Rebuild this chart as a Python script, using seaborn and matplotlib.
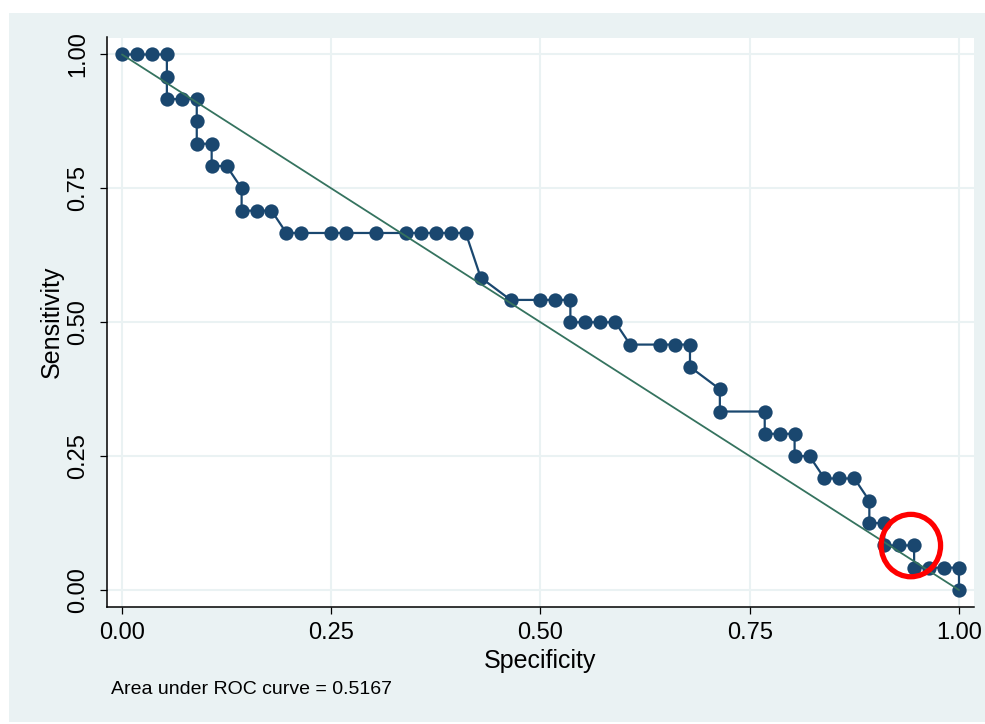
import matplotlib
matplotlib.use("Agg")
import matplotlib.pyplot as plt
from matplotlib.patches import Rectangle, Ellipse
import pandas as pd
import seaborn as sns

# ROC operating points (specificity, sensitivity), in threshold order
specificity = [0, .0179, .0357, .0536, .0536, .0536, .0714, .0893, .0893, .0893,
               .1071, .1071, .125, .1429, .1429, .1607, .1786, .1964, .2143, .25,
               .2679, .3036, .3393, .3571, .375, .3929, .4107, .4286, .4643, .5,
               .5179, .5357, .5357, .5536, .5714, .5893, .6071, .6429, .6607, .6786,
               .6786, .7143, .7143, .7679, .7679, .7857, .8036, .8036, .8214, .8393,
               .8571, .875, .8929, .8929, .9107, .9107, .9286, .9464, .9464, .9643,
               .9821, 1, 1]
sensitivity = [1, 1, 1, 1, .9583, .9167, .9167, .9167, .875, .8333,
               .8333, .7917, .7917, .75, .7083, .7083, .7083, .6667, .6667, .6667,
               .6667, .6667, .6667, .6667, .6667, .6667, .6667, .5833, .5417, .5417,
               .5417, .5417, .5, .5, .5, .5, .4583, .4583, .4583, .4583,
               .4167, .375, .3333, .3333, .2917, .2917, .2917, .25, .25, .2083,
               .2083, .2083, .1667, .125, .125, .0833, .0833, .0833, .0417, .0417,
               .0417, .0417, 0]

# chance reference line
ref_spec = [0, 1]
ref_sens = [1, 0]

tick_values = [0, 0.25, 0.5, 0.75, 1.0]
tick_labels = ["0.00", "0.25", "0.50", "0.75", "1.00"]
auc_label = "Area under ROC curve = 0.5167"

# highlighted region
circle_center = (0.9425, 0.0830)

NAVY = "#1A476F"
GREEN = "#35735F"
PANEL = "#EAF2F3"

sns.set_theme(style="white")
plt.rcParams["font.family"] = ["Liberation Sans", "DejaVu Sans"]

fig = plt.figure(figsize=(9.85, 7.24), dpi=100)
fig.patch.set_facecolor("white")
fig.patches.append(Rectangle((9 / 985, 1 - 722 / 724), 976 / 985, 709 / 724,
                             transform=fig.transFigure, facecolor=PANEL,
                             edgecolor="none", zorder=-1))

ax = fig.add_axes([107 / 985, 1 - 607 / 724, 867 / 985, 569.5 / 724])
ax.set_facecolor("white")

roc = pd.DataFrame({"Specificity": specificity, "Sensitivity": sensitivity})
sns.lineplot(data=roc, x="Specificity", y="Sensitivity", sort=False, estimator=None,
             color=NAVY, linewidth=1.6, marker="o", markersize=10.3,
             markeredgewidth=0, ax=ax, zorder=3)

ref = pd.DataFrame({"Specificity": ref_spec, "Sensitivity": ref_sens})
sns.lineplot(data=ref, x="Specificity", y="Sensitivity", sort=False, estimator=None,
             color=GREEN, linewidth=1.3, ax=ax, zorder=4)

ax.add_patch(Ellipse(circle_center, width=0.071, height=0.1165, fill=False,
                     edgecolor="#FF0000", linewidth=3.8, zorder=5))

ax.set_xlim(-15 / 836, 1 + 15 / 836)
ax.set_ylim(-17 / 536, 1 + 17 / 536)
ax.set_xticks(tick_values)
ax.set_xticklabels(tick_labels)
ax.set_yticks(tick_values)
ax.set_yticklabels(tick_labels, rotation=90, va="center")

ax.grid(True, color=PANEL, linewidth=1.5)
ax.set_axisbelow(True)
for side in ("top", "right"):
    ax.spines[side].set_visible(False)
for side in ("left", "bottom"):
    ax.spines[side].set_color("black")
    ax.spines[side].set_linewidth(1.1)

ax.tick_params(axis="both", direction="out", length=5, width=0.9, color="black",
               labelsize=17, labelcolor="black", left=True, bottom=True)
ax.tick_params(axis="x", pad=6)
ax.tick_params(axis="y", pad=8)

ax.set_xlabel("Specificity", fontsize=18, color="black")
ax.set_ylabel("Sensitivity", fontsize=18, color="black")
ax.xaxis.set_label_coords(0.4994, -0.073)
ax.yaxis.set_label_coords(-0.050, 0.5)

fig.text(111 / 985, 1 - 690 / 724, auc_label, fontsize=14, color="black",
         ha="left", va="center")

fig.savefig("out.png", dpi=100, facecolor=fig.get_facecolor())
